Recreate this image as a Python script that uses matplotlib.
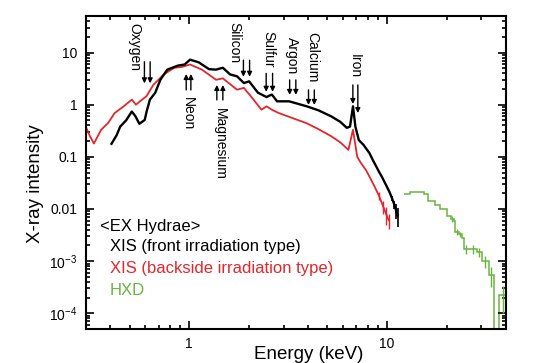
import matplotlib
matplotlib.use("Agg")
import matplotlib.pyplot as plt
from matplotlib.ticker import FixedLocator, FixedFormatter, LogLocator, NullFormatter

plt.rcParams['font.family'] = ['Liberation Sans', 'DejaVu Sans']
plt.rcParams['mathtext.default'] = 'regular'

# XIS front irradiation (black)
fi_energy = [0.405, 0.43, 0.448, 0.48, 0.513, 0.535, 0.56, 0.596, 0.61, 0.633, 0.673, 0.715,
             0.775, 0.876, 0.949, 1.01, 1.06, 1.117, 1.26, 1.368, 1.42, 1.48, 1.61, 1.745,
             1.89, 2.01, 2.225, 2.46, 2.55, 2.62, 2.78, 3.2, 3.93, 4.5, 5.21, 5.8, 6.26,
             6.5, 6.73, 6.92, 7.2, 7.6, 8.15, 8.5, 8.83, 9.1, 9.4, 9.97, 10.3, 10.6, 10.9,
             11.1, 11.3]
fi_rate = [0.178, 0.26, 0.38, 0.5, 0.74, 0.6, 0.43, 0.51, 0.75, 1.25, 1.68, 3.0,
           4.7, 5.6, 5.9, 7.3, 6.9, 6.5, 4.8, 4.7, 4.9, 5.1, 3.8, 3.5,
           2.6, 2.8, 1.7, 1.4, 1.5, 1.56, 1.16, 1.16, 0.93, 0.78, 0.6, 0.47, 0.36,
           0.38, 0.93, 0.38, 0.21, 0.17, 0.118, 0.085, 0.065, 0.052, 0.042, 0.027, 0.021, 0.016, 0.012,
           0.0095, 0.0075]
fi_err_energy = [10.6, 10.9, 11.1, 11.3]
fi_err_rate = [0.016, 0.012, 0.0095, 0.0075]
fi_err = [0.002, 0.002, 0.003, 0.003]

# XIS backside irradiation (red)
bi_energy = [0.30, 0.315, 0.33, 0.359, 0.39, 0.42, 0.47, 0.513, 0.538, 0.57, 0.608, 0.659,
             0.744, 0.84, 0.92, 1.01, 1.16, 1.368, 1.48, 1.745, 1.89, 2.05, 2.32, 2.46,
             2.62, 2.84, 3.3, 3.93, 4.5, 5.21, 5.8, 6.38, 6.73, 7.07, 7.4, 7.82, 8.2, 8.65,
             9.1, 9.58, 9.9, 10.2]
bi_rate = [0.38, 0.25, 0.18, 0.33, 0.45, 0.69, 0.95, 1.25, 1.0, 1.2, 1.45, 2.4,
           3.8, 5.1, 5.3, 5.9, 4.7, 3.0, 3.2, 1.94, 2.1, 1.45, 0.8, 0.93,
           0.8, 0.69, 0.56, 0.44, 0.34, 0.25, 0.19, 0.136, 0.33, 0.10, 0.075, 0.056, 0.04, 0.027,
           0.018, 0.011, 0.008, 0.0061]
bi_err_energy = [9.1, 9.58, 9.9, 10.2]
bi_err_rate = [0.018, 0.011, 0.008, 0.0061]
bi_err = [0.003, 0.003, 0.003, 0.002]

# HXD (green), binned spectrum
hxd_edges = [12.2, 13.0, 14.0, 15.3, 16.2, 17.5, 18.6, 20.1, 21.0, 21.7, 22.1, 23.0, 23.9,
             24.4, 26.0, 28.5, 30.2, 32.6, 34.6, 36.8, 40.0]
hxd_rate = [0.019, 0.021, 0.021, 0.019, 0.014, 0.012, 0.0098, 0.0072, 0.0065, 0.0060, 0.0037,
            0.0033, 0.0028, 0.0017, 0.0017, 0.0015, 0.0010, 0.00054, 0.00003, 0.00022]
hxd_err_energy = [21.35, 22.55, 23.45, 25.2, 27.2, 29.3, 31.4, 33.6, 38.4]
hxd_err_rate = [0.0065, 0.0037, 0.0033, 0.0017, 0.0017, 0.0015, 0.0010, 0.00054, 0.00022]
hxd_err = [0.0008, 0.0005, 0.0004, 0.0003, 0.0003, 0.0003, 0.00025, 0.00022, 0.00012]

# emission lines
line_names = ['Oxygen', 'Neon', 'Magnesium', 'Silicon', 'Sulfur', 'Argon', 'Calcium', 'Iron']
line_energies = [(0.594, 0.635), (0.966, 1.02), (1.38, 1.48), (1.88, 2.02),
                 (2.45, 2.64), (3.22, 3.46), (4.01, 4.29), (6.72, 7.12)]

y_ticks = [1e-4, 1e-3, 1e-2, 1e-1, 1, 10]
y_tick_labels = ['$10^{-4}$', '$10^{-3}$', '0.01', '0.1', '1', '10']

black = 'black'
red = '#e3262b'
green = '#6ab43e'

fig = plt.figure(figsize=(5.46, 3.63), dpi=100)
ax = fig.add_axes([0.157, 0.0937, 0.770, 0.862])

ax.plot(bi_energy, bi_rate, color=red, lw=1.3)
ax.errorbar(bi_err_energy, bi_err_rate, yerr=bi_err, fmt='none', ecolor=red, elinewidth=1)
ax.plot(fi_energy, fi_rate, color=black, lw=1.7)
ax.errorbar(fi_err_energy, fi_err_rate, yerr=fi_err, fmt='none', ecolor=black, elinewidth=1.2)
ax.stairs(hxd_rate, hxd_edges, color=green, lw=1.1, baseline=None)
ax.errorbar(hxd_err_energy, hxd_err_rate, yerr=hxd_err, fmt='none', ecolor=green, elinewidth=1)

ax.set_xscale('log')
ax.set_yscale('log')
ax.set_xlim(0.3, 40)
ax.set_ylim(5e-5, 50)

ax.xaxis.set_major_locator(FixedLocator([1, 10]))
ax.xaxis.set_major_formatter(FixedFormatter(['1', '10']))
ax.xaxis.set_minor_locator(LogLocator(base=10, subs=range(2, 10)))
ax.xaxis.set_minor_formatter(NullFormatter())
ax.yaxis.set_major_locator(FixedLocator(y_ticks))
ax.yaxis.set_major_formatter(FixedFormatter(y_tick_labels))
ax.yaxis.set_minor_locator(LogLocator(base=10, subs=range(2, 10)))
ax.yaxis.set_minor_formatter(NullFormatter())

ax.tick_params(which='both', direction='in', top=True, right=True, labelsize=10, width=1.2)
ax.tick_params(which='major', length=6, pad=6)
ax.tick_params(which='minor', length=3)
for s in ax.spines.values():
    s.set_linewidth(1.5)

ax.set_xlabel('Energy (keV)', fontsize=13.5)
ax.set_ylabel('X-ray intensity', fontsize=13.5)
ax.xaxis.set_label_coords(0.53, -0.055)
ax.yaxis.set_label_coords(-0.1, 0.466)

# label layout: text x (keV), text top, arrow start, arrow end (axes fraction)
label_x = [0.53, 0.99, 1.435, 1.70, 2.50, 3.31, 4.17, 6.85]
text_top = [0.979, 0.742, 0.706, 0.982, 0.953, 0.934, 0.950, 0.879]
arrow_from = [0.854, 0.764, 0.732, 0.859, 0.817, 0.796, 0.764, 0.780]
arrow_to = [(0.785, 0.785), (0.815, 0.815), (0.780, 0.780), (0.806, 0.806),
            (0.758, 0.758), (0.748, 0.748), (0.716, 0.716), (0.719, 0.690)]
trans = ax.get_xaxis_transform()
for i, name in enumerate(line_names):
    ax.text(label_x[i], text_top[i], name, rotation=-90, ha='center', va='top',
            fontsize=10, transform=trans)
    for e, yt in zip(line_energies[i], arrow_to[i]):
        ax.annotate('', xy=(e, yt), xytext=(e, arrow_from[i]), xycoords=trans,
                    textcoords=trans,
                    arrowprops=dict(arrowstyle='-|>', lw=1, color='black',
                                    mutation_scale=7, shrinkA=0, shrinkB=0))

fig.text(100.5 / 546, 1 - 226 / 363, '<EX Hydrae>', fontsize=12, va='center', color=black)
fig.text(110 / 546, 1 - 246.7 / 363, 'XIS (front irradiation type)', fontsize=12, va='center', color=black)
fig.text(110 / 546, 1 - 268.3 / 363, 'XIS (backside irradiation type)', fontsize=12, va='center', color=red)
fig.text(110 / 546, 1 - 290.7 / 363, 'HXD', fontsize=12, va='center', color=green)

fig.savefig('out.png', dpi=100)
